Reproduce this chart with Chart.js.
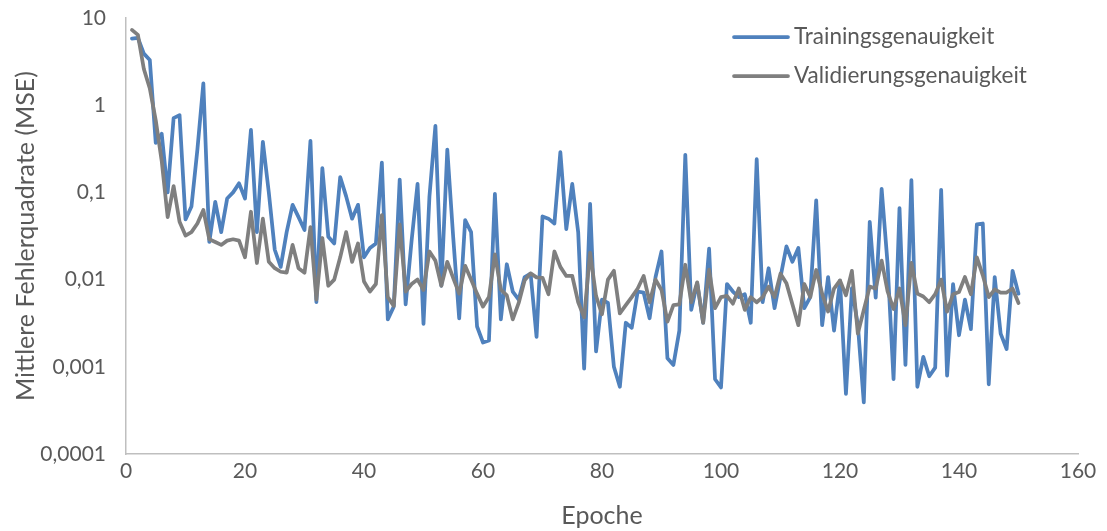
<!DOCTYPE html>
<html><head><meta charset="utf-8">
<script src="https://cdn.jsdelivr.net/npm/chart.js@4"></script>
<style>html,body{margin:0;padding:0;background:#fff}#wrap{width:1107px;height:531px}</style>
</head><body><div id="wrap"><canvas id="c" width="1107" height="531"></canvas></div>
<script>
const seriesNames = ['Trainingsgenauigkeit', 'Validierungsgenauigkeit'];
const trainingMSE = [
  5.8, 5.9, 3.9, 3.3, 0.37, 0.47, 0.10, 0.71, 0.77, 0.049,
  0.069, 0.31, 1.78, 0.027, 0.078, 0.035, 0.085, 0.10, 0.127, 0.085,
  0.52, 0.035, 0.38, 0.1, 0.022, 0.014, 0.035, 0.072, 0.052, 0.037,
  0.39, 0.0055, 0.19, 0.031, 0.026, 0.15, 0.09, 0.05, 0.072, 0.018,
  0.023, 0.026, 0.22, 0.0035, 0.0049, 0.14, 0.0052, 0.028, 0.125, 0.0031,
  0.09, 0.58, 0.0085, 0.31, 0.03, 0.0036, 0.048, 0.035, 0.0029, 0.0019,
  0.002, 0.096, 0.0035, 0.015, 0.0073, 0.0059, 0.0107, 0.0117, 0.0022, 0.053,
  0.05, 0.044, 0.29, 0.038, 0.125, 0.035, 0.00095, 0.074, 0.0015, 0.0059,
  0.0054, 0.001, 0.00059, 0.0032, 0.0028, 0.0073, 0.0071, 0.0036, 0.0107, 0.021,
  0.00125, 0.00105, 0.0026, 0.27, 0.0045, 0.0091, 0.0032, 0.0226, 0.00072, 0.00058,
  0.0089, 0.0073, 0.0063, 0.0068, 0.0032, 0.24, 0.0055, 0.0135, 0.0047, 0.0107,
  0.024, 0.016, 0.023, 0.0047, 0.0063, 0.081, 0.003, 0.0107, 0.0026, 0.0097,
  0.00049, 0.008, 0.003, 0.00039, 0.046, 0.0062, 0.11, 0.015, 0.00072, 0.066,
  0.00105, 0.138, 0.00059, 0.0013, 0.00078, 0.00098, 0.107, 0.00079, 0.0089, 0.0023,
  0.0059, 0.0027, 0.043, 0.044, 0.00063, 0.0107, 0.0024, 0.0016, 0.0126, 0.0069
];
const validationMSE = [
  7.3, 6.4, 2.6, 1.56, 0.67, 0.23, 0.052, 0.118, 0.046, 0.032,
  0.035, 0.044, 0.063, 0.029, 0.027, 0.025, 0.028, 0.029, 0.028, 0.018,
  0.06, 0.0155, 0.05, 0.016, 0.0135, 0.0123, 0.012, 0.025, 0.0135, 0.012,
  0.04, 0.0059, 0.03, 0.0085, 0.01, 0.018, 0.035, 0.016, 0.026, 0.0095,
  0.0073, 0.0089, 0.055, 0.0063, 0.005, 0.043, 0.0073, 0.0089, 0.01, 0.0076,
  0.021, 0.0165, 0.0085, 0.016, 0.0104, 0.0069, 0.0144, 0.01, 0.0069, 0.0049,
  0.0063, 0.0195, 0.0077, 0.0066, 0.0035, 0.0054, 0.0098, 0.0118, 0.0106, 0.0105,
  0.0068, 0.021, 0.014, 0.011, 0.011, 0.0055, 0.0037, 0.0204, 0.0065, 0.004,
  0.01, 0.0126, 0.0041, 0.0051, 0.0063, 0.0079, 0.011, 0.0055, 0.01, 0.0076,
  0.0033, 0.0051, 0.0052, 0.0148, 0.0055, 0.0093, 0.0032, 0.013, 0.0047, 0.0063,
  0.0065, 0.0053, 0.0079, 0.0045, 0.0063, 0.0055, 0.0063, 0.0083, 0.0063, 0.0117,
  0.0091, 0.0052, 0.003, 0.0089, 0.0063, 0.0129, 0.0069, 0.0043, 0.0079, 0.0098,
  0.0066, 0.0126, 0.0024, 0.0045, 0.0083, 0.0079, 0.0165, 0.0073, 0.0046, 0.0079,
  0.003, 0.0156, 0.0069, 0.0064, 0.0055, 0.0068, 0.01, 0.0043, 0.0068, 0.0072,
  0.0107, 0.0068, 0.018, 0.0112, 0.0063, 0.0077, 0.0071, 0.0071, 0.0079, 0.0054
];
const epochs = trainingMSE.map((_, i) => i + 1);
const xTickValues = [0, 20, 40, 60, 80, 100, 120, 140, 160];
const yTickValues = [0.0001, 0.001, 0.01, 0.1, 1, 10];
const xTitle = 'Epoche';
const yTitle = 'Mittlere Fehlerquadrate (MSE)';

const FONT = 'Lato, "Open Sans", sans-serif';
const TEXT = '#595959';
const colors = ['#4f81bd', '#7f7f7f'];

const legendPlugin = {
  id: 'insideLegend',
  afterDraw(chart, args, opts) {
    const ctx = chart.ctx;
    ctx.save();
    ctx.font = opts.fontSize + 'px ' + FONT;
    ctx.textBaseline = 'middle';
    ctx.textAlign = 'left';
    chart.data.datasets.forEach((ds, i) => {
      const y = opts.top + i * opts.rowGap;
      ctx.strokeStyle = ds.borderColor;
      ctx.lineWidth = ds.borderWidth;
      ctx.lineCap = 'round';
      ctx.beginPath();
      ctx.moveTo(opts.left, y);
      ctx.lineTo(opts.left + opts.lineLen, y);
      ctx.stroke();
      ctx.fillStyle = TEXT;
      ctx.fillText(ds.label, opts.left + opts.lineLen + opts.gap, y);
    });
    ctx.restore();
  }
};

new Chart(document.getElementById('c'), {
  type: 'line',
  data: {
    labels: epochs,
    datasets: [
      { label: seriesNames[0], data: trainingMSE, borderColor: colors[0], backgroundColor: colors[0],
        borderWidth: 3.75, pointRadius: 0, tension: 0, order: 1, borderJoinStyle: 'round', borderCapStyle: 'round' },
      { label: seriesNames[1], data: validationMSE, borderColor: colors[1], backgroundColor: colors[1],
        borderWidth: 3.75, pointRadius: 0, tension: 0, order: 0, borderJoinStyle: 'round', borderCapStyle: 'round' }
    ]
  },
  options: {
    responsive: false,
    animation: false,
    devicePixelRatio: 1,
    layout: { padding: { left: 0, right: 29, top: 18, bottom: 0 } },
    plugins: {
      legend: { display: false },
      tooltip: { enabled: false },
      insideLegend: { left: 734, top: 37, rowGap: 39, lineLen: 54, gap: 6, fontSize: 22.5 }
    },
    scales: {
      x: {
        type: 'linear', min: 0, max: 160,
        afterBuildTicks: s => { s.ticks = xTickValues.map(v => ({ value: v })); },
        afterFit: s => { s.height = 77; s.paddingLeft = 0; s.paddingRight = 0; },
        grid: { display: false, drawTicks: false },
        border: { display: true, color: '#bfbfbf', width: 1.5 },
        ticks: { color: TEXT, font: { family: FONT, size: 21 }, padding: 5, maxRotation: 0 },
        title: { display: true, text: xTitle, color: TEXT, font: { family: FONT, size: 25 }, padding: { top: 2, bottom: 0 } }
      },
      y: {
        type: 'logarithmic', min: 0.0001, max: 10,
        afterBuildTicks: s => { s.ticks = yTickValues.map(v => ({ value: v })); },
        afterFit: s => { s.width = 126; s.paddingTop = 0; s.paddingBottom = 0; },
        grid: { display: false, drawTicks: false },
        border: { display: true, color: '#bfbfbf', width: 1.5 },
        ticks: { color: TEXT, font: { family: FONT, size: 21 }, padding: 20,
          callback: v => String(v).replace('.', ',') },
        title: { display: true, text: yTitle, color: TEXT, font: { family: FONT, size: 25 }, padding: { top: 11, bottom: 0 } }
      }
    }
  },
  plugins: [legendPlugin]
});
</script></body></html>
